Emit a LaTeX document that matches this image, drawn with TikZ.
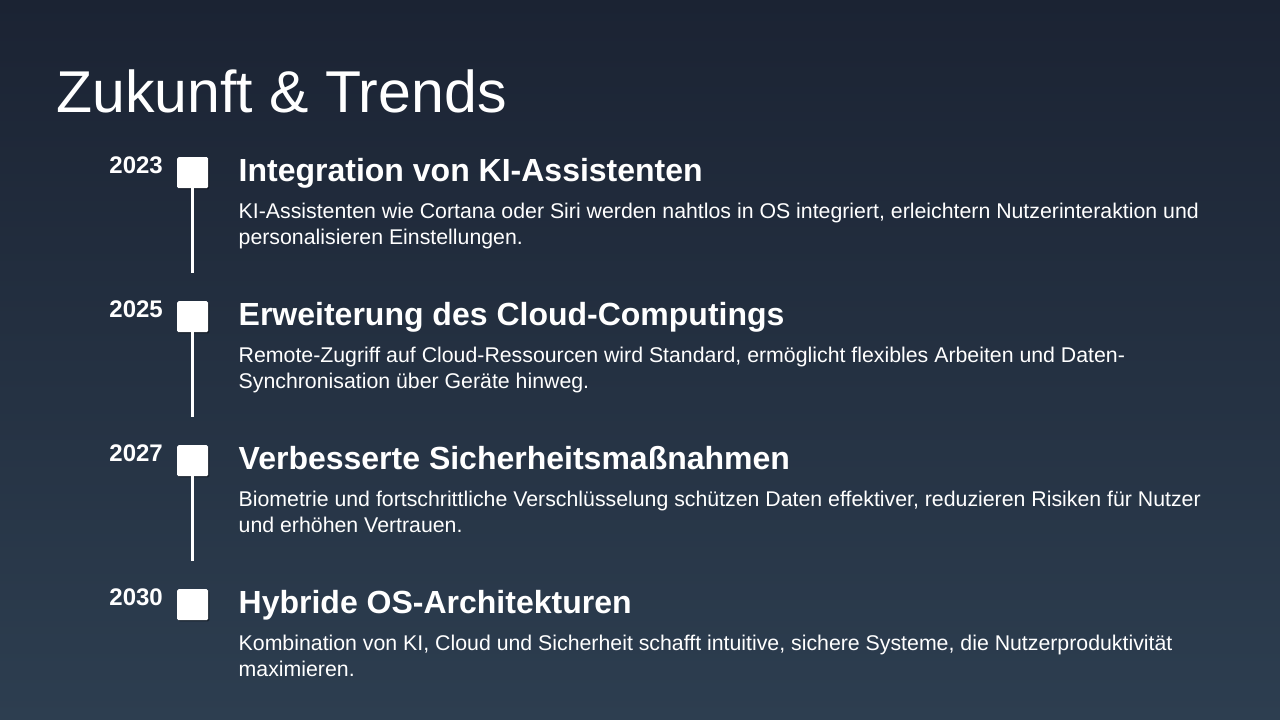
\documentclass[tikz,border=0pt]{standalone}
\usepackage{fontspec}
\setmainfont{Liberation Sans}
\usetikzlibrary{shadows}

\definecolor{bgtop}{HTML}{1B2333}
\definecolor{bgbot}{HTML}{2D3E50}

\tikzset{
  title/.style={anchor=base west, inner sep=0, text=white,
    font=\fontsize{59}{63}\selectfont},
  year/.style={anchor=base east, inner sep=0, text=white,
    font=\fontsize{24}{28}\selectfont\bfseries},
  marker/.style={draw=none, fill=white, minimum size=31pt, inner sep=0,
    rounded corners=1.5pt, anchor=north west,
    drop shadow={shadow xshift=1.2pt, shadow yshift=-1.2pt, opacity=0.35, fill=black}},
  head/.style={anchor=base west, inner sep=0, text=white,
    font=\fontsize{32}{36}\selectfont\bfseries},
  desc/.style={anchor=north west, inner sep=0, text=white, align=left,
    font=\fontsize{21.3}{26.5}\selectfont},
  stem/.style={draw=white, line width=3pt}
}

\begin{document}
\begin{tikzpicture}[x=1pt, y=-1pt]
    % background
    \shade[top color=bgtop, bottom color=bgbot] (0,0) rectangle (1280,720);
    \useasboundingbox (0,0) rectangle (1280,720);

    \node[title] (title) at (56,112) {Zukunft \& Trends};

    % markers and years
    \foreach \yr/\i in {2023/0,2025/1,2027/2,2030/3}{
        \node[year] (y\yr) at (163,173+144*\i) {\yr};
        \node[marker] (m\yr) at (177,157+144*\i) {};
    }
    \foreach \yr/\i in {2023/0,2025/1,2027/2}{
        \coordinate (e\yr) at (m\yr.south |- 0,273+144*\i);
        \draw[stem] (m\yr.south) -- (e\yr);
    }

    % texts
    \node[head] (h2023) at (238.5,181) {Integration von KI-Assistenten};
    \node[desc] (d2023) at (238.5,202.5) {KI-Assistenten wie Cortana oder Siri werden nahtlos in OS integriert, erleichtern Nutzerinteraktion und\\personalisieren Einstellungen.};

    \node[head] (h2025) at (238.5,325) {Erweiterung des Cloud-Computings};
    \node[desc] (d2025) at (238.5,346.5) {Remote-Zugriff auf Cloud-Ressourcen wird Standard, ermöglicht flexibles Arbeiten und Daten-\\Synchronisation über Geräte hinweg.};

    \node[head] (h2027) at (238.5,469) {Verbesserte Sicherheitsmaßnahmen};
    \node[desc] (d2027) at (238.5,490.5) {Biometrie und fortschrittliche Verschlüsselung schützen Daten effektiver, reduzieren Risiken für Nutzer\\und erhöhen Vertrauen.};

    \node[head] (h2030) at (238.5,613) {Hybride OS-Architekturen};
    \node[desc] (d2030) at (238.5,634.5) {Kombination von KI, Cloud und Sicherheit schafft intuitive, sichere Systeme, die Nutzerproduktivität\\maximieren.};
\end{tikzpicture}
\end{document}
